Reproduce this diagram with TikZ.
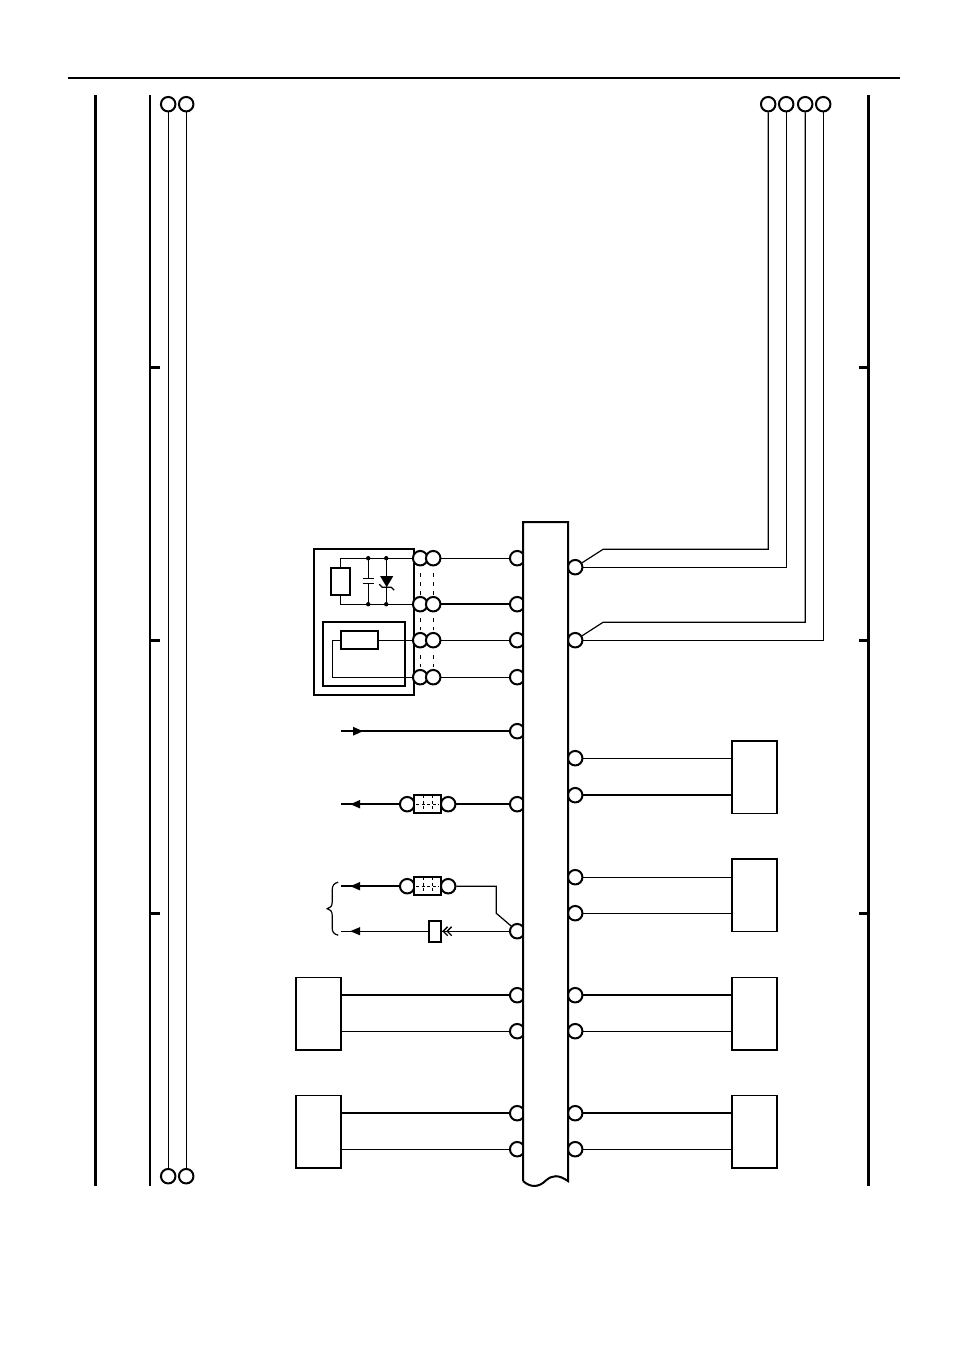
\documentclass[tikz,border=0pt]{standalone}
\usetikzlibrary{arrows.meta}
\tikzset{
  term/.style={draw,circle,fill=white,line width=2pt,inner sep=0pt,minimum size=14.5pt},
  unit/.style={draw,line width=1.6pt,inner sep=0pt,minimum width=45pt,minimum height=72.5pt},
  fuse/.style={draw,fill=white,line width=2pt,inner sep=0pt,minimum width=27pt,minimum height=18pt},
  res/.style={draw,line width=2pt,inner sep=0pt},
  wire/.style={line width=1.2pt},
  wirethick/.style={line width=2.2pt},
  rail/.style={line width=3pt},
  tip/.style={-{Triangle[length=10pt,width=8pt]}}
}
\begin{document}
\begin{tikzpicture}[x=1pt,y=-1pt]
  \useasboundingbox (-.2,-.2) rectangle (953.8,1350.8);
  % frame
  \coordinate (ruleL) at (68,78);
  \coordinate (ruleR) at (900,78);
  \draw[line width=2pt] (ruleL) -- (ruleR);
  \draw[rail] (95.6,95) -- (95.6,1186);
  \draw[line width=2.2pt] (150,95) -- (150,1186);
  \draw[rail] (868.6,95) -- (868.6,1186);
  \draw[line width=2.8pt]
    (150,367.5) -- (160,367.5) (150,640) -- (160,640) (150,913.5) -- (160,913.5)
    (859,367.5) -- (869,367.5) (859,640) -- (869,640) (859,913.5) -- (869,913.5);
  % outer boxes
  \node[unit] (ecuA) at (318.5,1013.5) {};
  \node[unit] (ecuB) at (318.5,1131.5) {};
  \node[unit] (ctlA) at (754.5,777) {};
  \node[unit] (ctlB) at (754.5,895) {};
  \node[unit] (ctlC) at (754.5,1013.5) {};
  \node[unit] (ctlD) at (754.5,1131.5) {};
  \draw[line width=2pt] (314,549) rectangle (414,695);
  \draw[line width=2pt] (323,622) rectangle (405,686);
  % terminals
  \foreach \name/\x/\y in {
      t1/168/104, t2/186/104, t3/168/1176, t4/186/1176,
      u1/768/104, u2/786/104, u3/805/104, u4/823/104,
      a1/420/558, a2/420/604, a3/420/640, a4/420/677,
      b1/433/558, b2/433/604, b3/433/640, b4/433/677,
      l1/517/558, l2/517/604, l3/517/640, l4/517/677, l5/517/731,
      l6/517/804, l7/517/931, l8/517/995, l9/517/1031, l10/517/1113, l11/517/1149,
      r1/575/567, r2/575/640, r3/575/758, r4/575/795, r5/575/877,
      r6/575/913, r7/575/995, r8/575/1031, r9/575/1113, r10/575/1149,
      f1/407/804, f2/448/804, f3/407/886, f4/448/886}
    \node[term] (\name) at (\x,\y) {};
  % block
  \draw[line width=2pt,fill=white] (523,1181) -- (523,522) -- (568,522) -- (568,1181)
    .. controls (558,1174) and (552,1175) .. (546,1180)
    .. controls (538,1188) and (530,1187) .. (523,1181);
  % fuses
  \node[fuse] (fuseA) at (427.5,804) {};
  \node[fuse] (fuseB) at (427.5,886) {};
  \draw[dash pattern=on 3pt off 2.5pt,line width=1.2pt]
    (423,795) -- (423,813) (432,795) -- (432,813) (416,804) -- (439,804)
    (423,877) -- (423,895) (432,877) -- (432,895) (416,886) -- (439,886);
  % plug
  \node[res,minimum width=12pt,minimum height=21pt] (plug) at (435,931.5) {};
  % wires up the page
  \draw[wire] (t1) -- (t3);
  \draw[wire] (t2) -- (t4);
  \draw[wire] (u1) -- (768,549) -- (603,549) -- (r1);
  \draw[wire] (u2) -- (786,567) -- (r1);
  \draw[wire] (u3) -- (805,622) -- (603,622) -- (r2);
  \draw[wire] (u4) -- (823,640) -- (r2);
  % wires to block
  \draw[wire] (b1) -- (l1);
  \draw[wirethick] (b2) -- (l2);
  \draw[wire] (b3) -- (l3);
  \draw[wire] (b4) -- (l4);
  \draw[wire] (r3) -- (ctlA.west |- r3);
  \draw[wirethick] (r4) -- (ctlA.west |- r4);
  \draw[wire] (r5) -- (ctlB.west |- r5);
  \draw[wire] (r6) -- (ctlB.west |- r6);
  \draw[wirethick] (r7) -- (ctlC.west |- r7);
  \draw[wire] (r8) -- (ctlC.west |- r8);
  \draw[wirethick] (r9) -- (ctlD.west |- r9);
  \draw[wire] (r10) -- (ctlD.west |- r10);
  \draw[wirethick] (l8) -- (ecuA.east |- l8);
  \draw[wire] (l9) -- (ecuA.east |- l9);
  \draw[wirethick] (l10) -- (ecuB.east |- l10);
  \draw[wire] (l11) -- (ecuB.east |- l11);
  % arrows
  \coordinate (inA) at (341,731);
  \coordinate (inAtip) at (363,731);
  \draw[wirethick] (inA) -- (l5);
  \draw[wirethick,tip] (inA) -- (inAtip);
  \coordinate (outA) at (341,804);
  \coordinate (outAtip) at (350,804);
  \draw[wirethick] (f1) -- (outA);
  \draw[wirethick,tip] (f1) -- (outAtip);
  \draw[wirethick] (f2) -- (l6);
  \coordinate (outB) at (341,886);
  \coordinate (outBtip) at (350,886);
  \draw[wirethick] (f3) -- (outB);
  \draw[wirethick,tip] (f3) -- (outBtip);
  \draw[wire] (f4) -- (496,886) -- (496,913) -- (l7);
  \coordinate (outC) at (341,931);
  \coordinate (outCtip) at (350,931);
  \draw[wire] (plug.west |- l7) -- (outC);
  \draw[wire,tip] (plug.west |- l7) -- (outCtip);
  \draw[wire] (l7) -- (plug.east |- l7);
  \draw[line width=1.3pt]
    (447.5,926.5) -- (443,931) -- (447.5,935.5)
    (451.5,926.5) -- (447,931) -- (451.5,935.5);
  % brace
  \draw[line width=1.2pt] (338,882) .. controls (334,883) and (332,885) .. (332,890)
    -- (332,902) .. controls (332,906) and (330,908) .. (327,908.5)
    .. controls (330,909) and (332,911) .. (332,915)
    -- (332,928) .. controls (332,932) and (334,934) .. (338,935);
  % parts in the sensor box
  \node[res,minimum width=19pt,minimum height=27pt] (resA) at (340.5,581.5) {};
  \node[res,minimum width=37pt,minimum height=18pt] (resB) at (359.5,640) {};
  \draw[wire] (resA.north) -- (resA.north |- a1) -- (a1);
  \draw[wire] (resA.south) -- (resA.south |- a2) -- (a2);
  \draw[wire] (resB.east) -- (a3);
  \draw[wire] (resB.west) -- (332,640) -- (332,677) -- (a4);
  \coordinate (capT) at (368,558);
  \coordinate (capB) at (368,604);
  \coordinate (dioT) at (386,558);
  \coordinate (dioB) at (386,604);
  \draw[wire] (capT) -- (368,578) (362.5,578) -- (374,578) (362.5,583) -- (374,583) (368,583) -- (capB);
  \draw[wire] (dioT) -- (dioB);
  \fill (380,576) -- (393,576) -- (386.5,587) -- cycle;
  \draw[line width=1.1pt] (379,584) -- (382,587) -- (391,587) -- (394,590);
  \foreach \dot in {capT,capB,dioT,dioB}
    \fill (\dot) circle (2.2pt);
  % pairs of terminals linked
  \begin{scope}[dash pattern=on 4pt off 5pt,line width=1pt]
    \draw[shorten <=7pt,shorten >=1pt] (a1) -- (a2);
    \draw[shorten <=7pt,shorten >=1pt] (b1) -- (b2);
    \draw[shorten <=6pt,shorten >=2pt] (a2) -- (a3);
    \draw[shorten <=6pt,shorten >=2pt] (b2) -- (b3);
    \draw[shorten <=7pt,shorten >=2pt] (a3) -- (a4);
    \draw[shorten <=7pt,shorten >=2pt] (b3) -- (b4);
  \end{scope}
\end{tikzpicture}
\end{document}
